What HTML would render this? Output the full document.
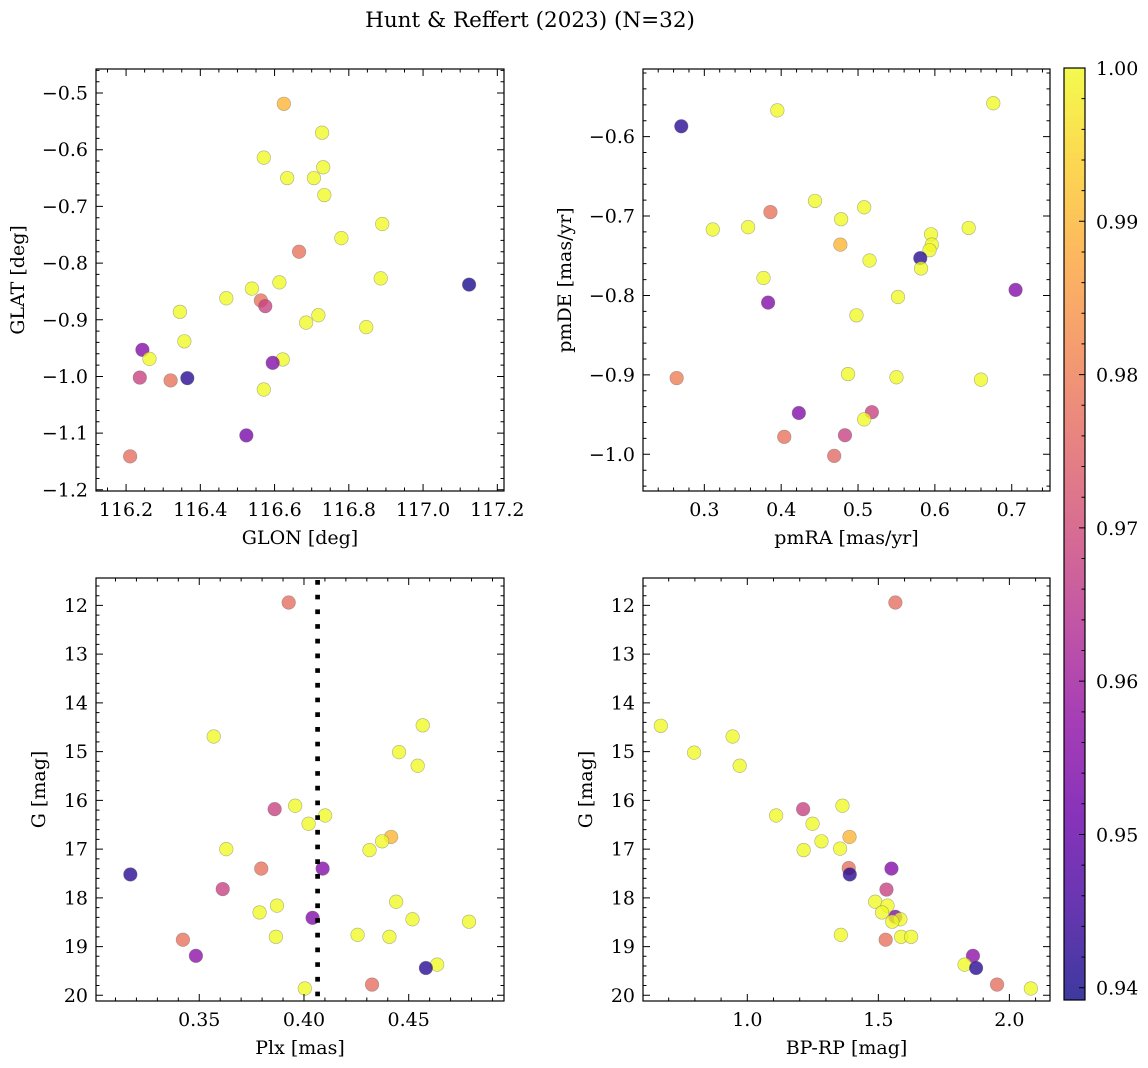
<!DOCTYPE html>
<html><head><meta charset="utf-8">
<style>
html,body{margin:0;padding:0;background:#fff;}
svg{display:block;font-family:"DejaVu Serif","Liberation Serif",serif;}
</style></head>
<body>
<svg id="fig" width="1148" height="1068" viewBox="0 0 1148 1068" xmlns="http://www.w3.org/2000/svg">
<text x="530" y="27" font-size="21.5" text-anchor="middle">Hunt &amp; Reffert (2023) (N=32)</text>
</svg>
<script>
// ---- data: GLON/GLAT panel
const glon = [116.625,116.728,116.571,116.731,116.634,116.706,116.734,116.890,116.780,116.666,116.886,117.124,116.613,116.539,116.470,116.563,116.575,116.345,116.718,116.685,116.847,116.357,116.244,116.263,116.622,116.595,116.237,116.365,116.320,116.571,116.524,116.211];
const glat = [-0.519,-0.570,-0.614,-0.631,-0.650,-0.650,-0.680,-0.731,-0.756,-0.780,-0.827,-0.838,-0.834,-0.845,-0.862,-0.866,-0.876,-0.886,-0.892,-0.905,-0.913,-0.938,-0.953,-0.969,-0.970,-0.976,-1.002,-1.003,-1.007,-1.023,-1.104,-1.141];
const probA = [0.990,1,1,1,1,1,1,1,1,0.978,1,0.940,1,1,1,0.978,0.968,1,1,1,1,1,0.955,1,1,0.955,0.968,0.942,0.978,1,0.953,0.977];
// ---- data: proper motion panel
const pmra = [0.676,0.395,0.270,0.444,0.386,0.508,0.478,0.311,0.357,0.644,0.595,0.596,0.593,0.477,0.581,0.515,0.582,0.377,0.705,0.552,0.383,0.498,0.264,0.487,0.550,0.660,0.423,0.518,0.508,0.404,0.483,0.469];
const pmde = [-0.558,-0.567,-0.587,-0.681,-0.695,-0.689,-0.704,-0.717,-0.714,-0.715,-0.723,-0.736,-0.743,-0.736,-0.753,-0.756,-0.766,-0.778,-0.793,-0.802,-0.809,-0.825,-0.904,-0.899,-0.903,-0.906,-0.948,-0.947,-0.956,-0.978,-0.976,-1.002];
const probB = [1,1,0.942,1,0.978,1,1,1,1,1,1,1,1,0.990,0.942,1,1,1,0.955,1,0.955,1,0.980,1,1,1,0.955,0.968,1,0.978,0.968,0.976];
// ---- data: parallax panel
const plx = [0.3927,0.4567,0.3569,0.4454,0.4543,0.3958,0.3860,0.4101,0.4022,0.4416,0.4373,0.4313,0.3629,0.3796,0.4089,0.3171,0.3612,0.4440,0.3871,0.3788,0.4041,0.4518,0.4788,0.4256,0.4408,0.3866,0.3422,0.3484,0.4636,0.4582,0.4325,0.4004];
const gmagC = [11.94,14.46,14.69,15.01,15.29,16.11,16.18,16.31,16.48,16.75,16.84,17.02,17.00,17.40,17.40,17.52,17.82,18.08,18.16,18.30,18.41,18.44,18.49,18.76,18.80,18.80,18.86,19.19,19.37,19.44,19.78,19.86];
const probC = [0.977,1,1,1,1,1,0.968,1,1,0.990,1,1,1,0.978,0.955,0.942,0.968,1,1,1,0.955,1,1,1,1,1,0.978,0.957,1,0.942,0.977,1];
const plxMean = [0.4065];
// ---- data: CMD panel
const bprp = [1.565,0.670,0.944,0.797,0.971,1.363,1.213,1.110,1.249,1.390,1.283,1.354,1.215,1.387,1.391,1.550,1.531,1.488,1.535,1.514,1.565,1.584,1.553,1.357,1.587,1.625,1.528,1.861,1.829,1.873,1.953,2.082];
const gmagD = [11.94,14.47,14.69,15.02,15.29,16.11,16.18,16.31,16.48,16.75,16.84,16.99,17.02,17.39,17.52,17.40,17.83,18.08,18.16,18.30,18.39,18.44,18.49,18.76,18.80,18.80,18.86,19.19,19.37,19.44,19.78,19.86];
const probD = [0.977,1,1,1,1,1,0.968,1,1,0.990,1,1,1,0.978,0.942,0.955,0.968,1,1,1,0.955,1,1,1,1,1,0.978,0.957,1,0.942,0.977,1];
// ---- tick labels
const ticksTLx = [116.2,116.4,116.6,116.8,117.0,117.2];
const ticksTLy = [-0.5,-0.6,-0.7,-0.8,-0.9,-1.0,-1.1,-1.2];
const ticksTRx = [0.3,0.4,0.5,0.6,0.7];
const ticksTRy = [-0.6,-0.7,-0.8,-0.9,-1.0];
const ticksBLx = [0.35,0.40,0.45];
const ticksGy = [12,13,14,15,16,17,18,19,20];
const ticksBRx = [1.0,1.5,2.0];
const ticksCbar = [0.94,0.95,0.96,0.97,0.98,0.99,1.00];

const NS='http://www.w3.org/2000/svg';
const svg=document.getElementById('fig');
const FS=19;
function mk(tag,attrs,parent){const e=document.createElementNS(NS,tag);for(const k in attrs)e.setAttribute(k,attrs[k]);(parent||svg).appendChild(e);return e;}

const CMIN=0.9392, CMAX=1.0;
const stops=[[13,8,135],[65,4,157],[106,0,168],[143,13,164],[177,42,144],[204,71,120],[225,100,98],[242,132,75],[252,166,54],[252,206,37],[240,249,33]];
function plasma(t){t=Math.max(0,Math.min(1,t));const f=t*10,i=Math.min(9,Math.floor(f)),r=f-i;const a=stops[i],b=stops[i+1];
  return 'rgb('+[0,1,2].map(k=>Math.round(a[k]+(b[k]-a[k])*r)).join(',')+')';}
function fmt(v,d){const s=Math.abs(v).toFixed(d);return (v<0?'\u2212':'')+s;}

function panel(c){
  const g=mk('g',{});
  
  
  const sx=v=>c.x0+(v-c.xmin)/(c.xmax-c.xmin)*(c.x1-c.x0);
  const sy=v=>c.y0+(v-c.ytop)/(c.ybot-c.ytop)*(c.y1-c.y0);
  const pg=mk('g',{},g);
  
  
  for(let i=0;i<c.xs.length;i++){
    const p=mk('circle',{cx:sx(c.xs[i]),cy:sy(c.ys[i]),r:6.8,fill:plasma((c.cs[i]-CMIN)/(CMAX-CMIN)),'fill-opacity':0.78,stroke:'#666','stroke-opacity':0.5,'stroke-width':0.6},pg);
    
    
  }
  if(c.extra)c.extra(g,sx,sy);
  const fr=mk('rect',{x:c.x0,y:c.y0,width:c.x1-c.x0,height:c.y1-c.y0,fill:'none',stroke:'#000','stroke-width':1.2},g);
  
  
  let d='';
  const lo=Math.min(c.xmin,c.xmax),hi=Math.max(c.xmin,c.xmax);
  for(let v=Math.ceil(lo/c.xminor-1e-6)*c.xminor;v<=hi+1e-9;v+=c.xminor){const x=sx(v);d+=`M${x},${c.y1}v-3.5M${x},${c.y0}v3.5`;}
  const ylo=Math.min(c.ytop,c.ybot),yhi=Math.max(c.ytop,c.ybot);
  for(let v=Math.ceil(ylo/c.yminor-1e-6)*c.yminor;v<=yhi+1e-9;v+=c.yminor){const y=sy(v);d+=`M${c.x0},${y}h3.5M${c.x1},${y}h-3.5`;}
  for(const v of c.xt){const x=sx(v);if(x<c.x0-0.5||x>c.x1+0.5)continue;d+=`M${x},${c.y1}v-7M${x},${c.y0}v7`;
    const t=mk('text',{x:x,y:c.y1+25,'font-size':FS,'text-anchor':'middle'},g);t.textContent=fmt(v,c.xd);
    
    }
  for(const v of c.yt){const y=sy(v);d+=`M${c.x0},${y}h7M${c.x1},${y}h-7`;
    const t=mk('text',{x:c.x0-8,y:y+6.5,'font-size':FS,'text-anchor':'end'},g);t.textContent=fmt(v,c.yd);
    
    }
  const tk=mk('path',{d:d,stroke:'#000','stroke-width':1,fill:'none'},g);
  
  
  const xl=mk('text',{x:(c.x0+c.x1)/2,y:c.y1+53,'font-size':FS,'text-anchor':'middle'},g);xl.textContent=c.xlabel;
  
  
  const yx=c.ylx,yy=(c.y0+c.y1)/2;
  const yl=mk('text',{x:yx,y:yy,'font-size':FS,'text-anchor':'middle',transform:`rotate(-90 ${yx} ${yy})`},g);yl.textContent=c.ylabel;
  
  
}

panel({name:'glon-glat-panel',x0:96,x1:504,y0:69,y1:491,xmin:116.119,xmax:117.218,ytop:-0.4576,ybot:-1.2021,
  xs:glon,ys:glat,cs:probA,xt:ticksTLx,yt:ticksTLy,xd:1,yd:1,xminor:0.05,yminor:0.02,xlabel:'GLON [deg]',ylabel:'GLAT [deg]',ylx:24});
panel({name:'proper-motion-panel',x0:643,x1:1050,y0:69,y1:491,xmin:0.2202,xmax:0.7498,ytop:-0.5149,ybot:-1.0462,
  xs:pmra,ys:pmde,cs:probB,xt:ticksTRx,yt:ticksTRy,xd:1,yd:1,xminor:0.02,yminor:0.02,xlabel:'pmRA [mas/yr]',ylabel:'pmDE [mas/yr]',ylx:571});
panel({name:'parallax-panel',x0:96,x1:504,y0:578,y1:1001,xmin:0.3007,xmax:0.4955,ytop:11.437,ybot:20.117,
  xs:plx,ys:gmagC,cs:probC,xt:ticksBLx,yt:ticksGy,xd:2,yd:0,xminor:0.01,yminor:0.2,xlabel:'Plx [mas]',ylabel:'G [mag]',ylx:45,
  extra:(g,sx,sy)=>{const l=mk('line',{x1:sx(plxMean[0]),x2:sx(plxMean[0]),y1:580,y2:1001,stroke:'#000','stroke-width':4.7,'stroke-dasharray':'4.7 10'},g);
    
    }});
panel({name:'cmd-panel',x0:643,x1:1050,y0:578,y1:1001,xmin:0.602,xmax:2.155,ytop:11.437,ybot:20.117,
  xs:bprp,ys:gmagD,cs:probD,xt:ticksBRx,yt:ticksGy,xd:1,yd:0,xminor:0.1,yminor:0.2,xlabel:'BP-RP [mag]',ylabel:'G [mag]',ylx:592});

const cb=mk('g',{});


const defs=mk('defs',{},cb);
const lg=mk('linearGradient',{id:'cbg',x1:0,y1:1,x2:0,y2:0},defs);
for(let i=0;i<=20;i++){mk('stop',{offset:i/20,'stop-color':plasma(i/20),'stop-opacity':0.8},lg);}
const CX0=1064,CX1=1085,CY0=68,CY1=1000;
mk('rect',{x:CX0,y:CY0,width:CX1-CX0,height:CY1-CY0,fill:'url(#cbg)',stroke:'#000','stroke-width':1.2},cb);
const cy=v=>CY1-(v-CMIN)/(CMAX-CMIN)*(CY1-CY0);
let cd='';
for(let v=0.94;v<=1.0001;v+=0.002){cd+=`M${CX1},${cy(v)}h-3.5`;}
for(const v of ticksCbar){const y=cy(v);cd+=`M${CX1},${y}h-6`;
  const t=mk('text',{x:1096,y:y+7,'font-size':FS},cb);t.textContent=v.toFixed(2);
  
  }
mk('path',{d:cd,stroke:'#000','stroke-width':1},cb);
</script>
</body></html>
